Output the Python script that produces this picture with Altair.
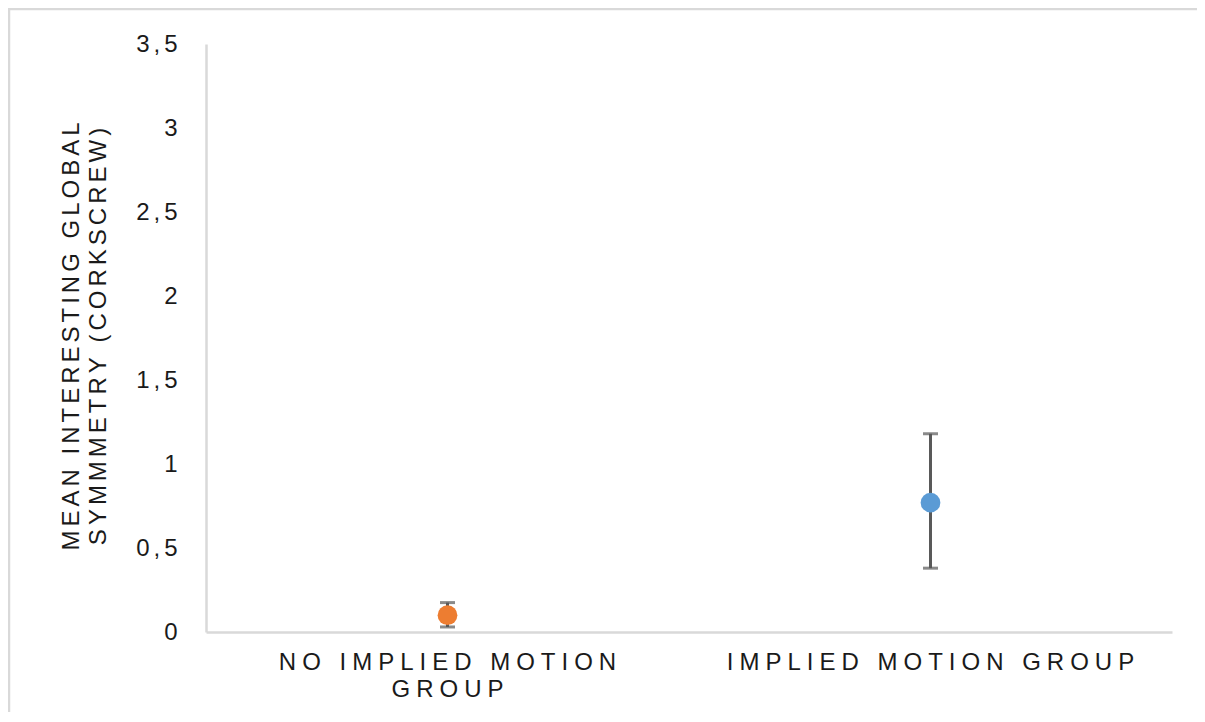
import altair as alt
import pandas as pd

# ---- data ----
categories = ["NO IMPLIED MOTION GROUP", "IMPLIED MOTION GROUP"]
tick_lines = [["NO IMPLIED MOTION", "GROUP"], ["IMPLIED MOTION GROUP"]]
means = [0.10, 0.77]
err_low = [0.03, 0.38]
err_high = [0.175, 1.18]
colors = ["#ED7D31", "#5B9BD5"]
y_title = ["MEAN INTERESTING GLOBAL", "SYMMMETRY (CORKSCREW)"]

SP_X = "\u2005"   # letter spacing for x labels
SP_Y = "\u2006"   # letter spacing for y title


def spaced(s, sp):
    return sp.join(list(s))


df = pd.DataFrame({
    "group": categories,
    "mean": means,
    "lo": err_low,
    "hi": err_high,
    "color": colors,
})

parts = []
for cat, lines in zip(categories, tick_lines):
    arr = "[" + ",".join("'" + spaced(l, SP_X) + "'" for l in lines) + "]"
    parts.append(f"datum.label == '{cat}' ? {arr} : ")
label_expr = "".join(parts) + "datum.label"

grey = "#d9d9d9"
txt = "#1a1a1a"
FONT = "Liberation Sans"

x_enc = alt.X(
    "group:N",
    sort=categories,
    scale=alt.Scale(paddingInner=0, paddingOuter=0),
    axis=alt.Axis(
        title=None,
        labelExpr=label_expr,
        labelAngle=0,
        labelFontSize=24,
        labelLineHeight=27,
        labelFont=FONT,
        labelColor=txt,
        labelPadding=18,
        labelLimit=0,
        labelOverlap=False,
        labelBound=False,
        ticks=False,
        tickSize=0,
        domainColor=grey,
        domainWidth=2.5,
        grid=False,
    ),
)

y_scale = alt.Scale(domain=[0, 3.5], nice=False, zero=True)
y_axis = alt.Axis(
    title=[spaced(t, SP_Y) for t in y_title],
    values=[0, 0.5, 1, 1.5, 2, 2.5, 3, 3.5],
    format=".1~f",
    labelExpr="replace(datum.label, '.', '\u2006,\u2006')",
    labelFontSize=24,
    labelFont=FONT,
    labelColor=txt,
    labelPadding=29,
    ticks=False,
    tickSize=0,
    domainColor=grey,
    domainWidth=2.5,
    grid=False,
    titleFontSize=24,
    titleFont=FONT,
    titleFontWeight="normal",
    titleColor=txt,
    titleLineHeight=27,
    titleX=-135,
    titleY=292,
    titleAlign="center",
    titleBaseline="middle",
    titleAngle=270,
)

base = alt.Chart(df)

err = base.mark_rule(color="#595959", strokeWidth=3).encode(
    x=x_enc,
    y=alt.Y("lo:Q", scale=y_scale, axis=y_axis),
    y2="hi:Q",
)
cap_lo = base.mark_tick(color="#595959", thickness=3, size=15, orient="horizontal").encode(
    x=alt.X("group:N", sort=categories), y=alt.Y("lo:Q")
)
cap_hi = base.mark_tick(color="#595959", thickness=3, size=15, orient="horizontal").encode(
    x=alt.X("group:N", sort=categories), y=alt.Y("hi:Q")
)
pts = base.mark_point(filled=True, opacity=1, size=390, shape="circle").encode(
    x=alt.X("group:N", sort=categories),
    y=alt.Y("mean:Q"),
    color=alt.Color("color:N", scale=None, legend=None),
)

frame_df = pd.DataFrame({"k": [0]})
top_line = alt.Chart(frame_df).mark_rule(color=grey, strokeWidth=2.5).encode(
    x=alt.value(-198), x2=alt.value(991), y=alt.value(-35)
)
left_line = alt.Chart(frame_df).mark_rule(color=grey, strokeWidth=2.5).encode(
    x=alt.value(-197), y=alt.value(-36), y2=alt.value(670)
)

chart = (
    alt.layer(top_line, left_line, err, cap_lo, cap_hi, pts)
    .properties(
        width=966,
        height=588,
        background="white",
        autosize=alt.AutoSizeParams(type="none"),
        padding={"left": 198, "top": 36, "right": 25, "bottom": 80},
    )
    .configure_view(strokeWidth=0, stroke="transparent")
)

chart.save("out.html", embed_options={"renderer": "svg", "actions": False})
